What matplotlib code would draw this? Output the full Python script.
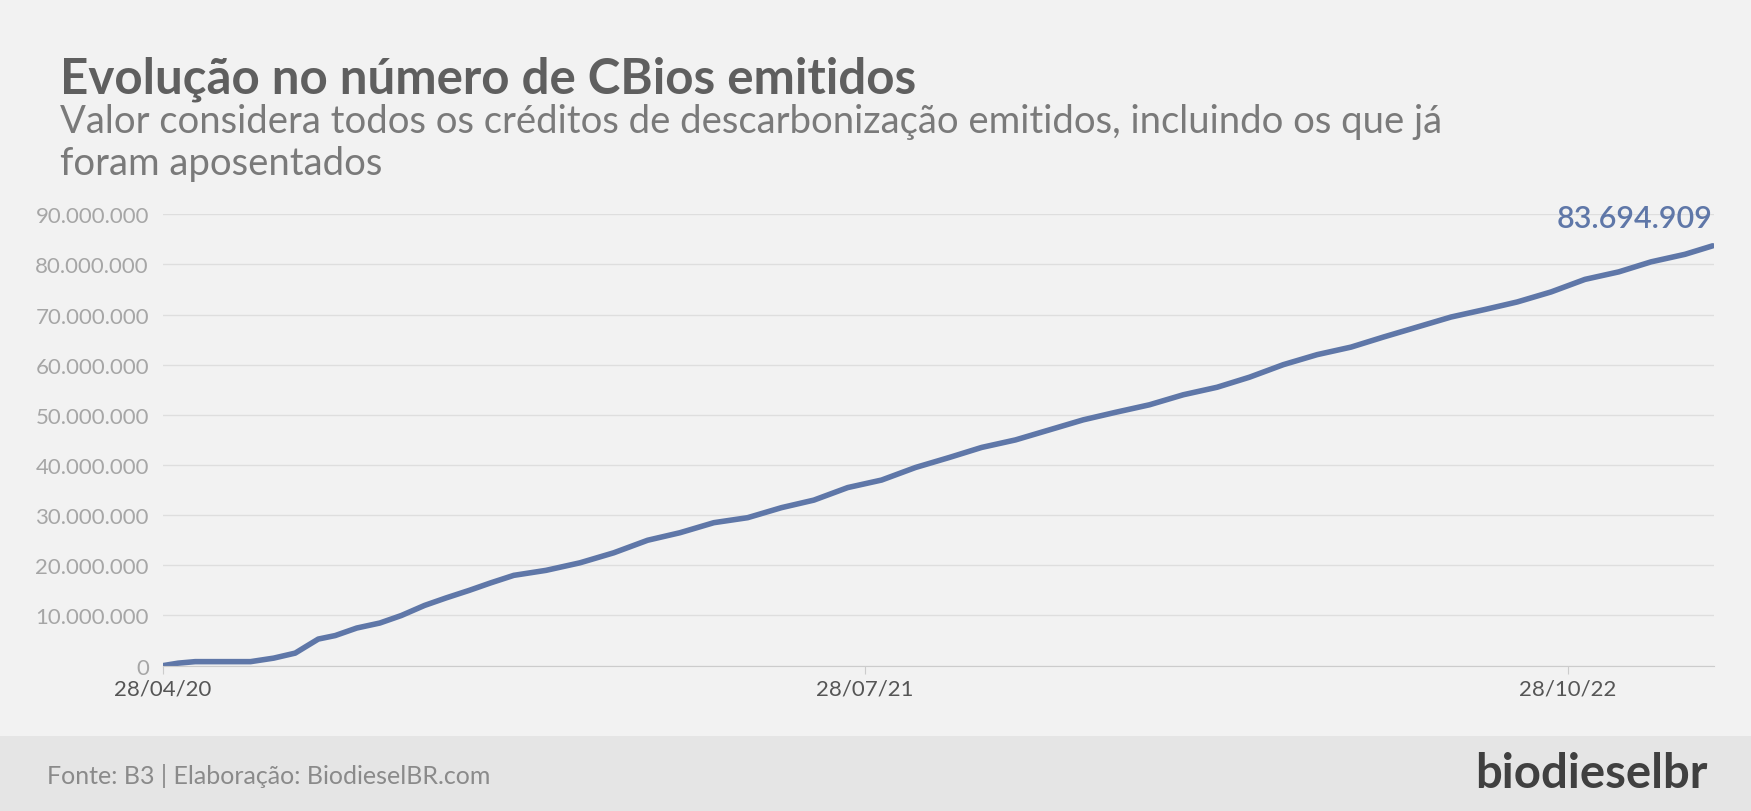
import matplotlib
matplotlib.use("Agg")
import matplotlib.pyplot as plt
import matplotlib.ticker as mticker
import pandas as pd

dates = ["2020-04-28","2020-05-08","2020-05-19","2020-06-24","2020-07-09","2020-07-23","2020-07-31",
 "2020-08-07","2020-08-18","2020-09-01","2020-09-16","2020-09-30","2020-10-15","2020-10-29","2020-11-13",
 "2020-11-27","2020-12-12","2021-01-02","2021-01-24","2021-02-15","2021-03-09","2021-03-30","2021-04-21",
 "2021-05-13","2021-06-04","2021-06-25","2021-07-17","2021-08-08","2021-08-30","2021-09-21","2021-10-12",
 "2021-11-03","2021-11-25","2021-12-17","2022-01-07","2022-01-29","2022-02-20","2022-03-14","2022-04-04",
 "2022-04-26","2022-05-18","2022-06-09","2022-06-30","2022-07-22","2022-08-13","2022-09-04","2022-09-25",
 "2022-10-17","2022-11-08","2022-11-30","2022-12-21","2023-01-12","2023-01-30"]
values_m = [0,0.5,0.8,0.8,1.5,2.5,4,5.3,6,7.5,8.5,10,12,13.5,15,16.5,18,19,20.5,22.5,25,26.5,28.5,
 29.5,31.5,33,35.5,37,39.5,41.5,43.5,45,47,49,50.5,52,54,55.5,57.5,60,62,63.5,65.5,67.5,69.5,71,72.5,
 74.5,77,78.5,80.5,82,83.694909]
tick_dates = ["2020-04-28","2021-07-28","2022-10-28"]
tick_labels = ["28/04/20","28/07/21","28/10/22"]
last_label = "83.694.909"

x = pd.to_datetime(dates)
y = [v*1e6 for v in values_m]

bg = "#f2f2f2"
fig = plt.figure(figsize=(17.51, 8.12), dpi=100, facecolor=bg)
plt.rcParams['font.family'] = ['Lato', 'DejaVu Sans']

footer = fig.add_axes([0, 0, 1, 0.092])
footer.set_facecolor("#e5e5e5"); footer.set_xticks([]); footer.set_yticks([])
for s in footer.spines.values(): s.set_visible(False)

ax = fig.add_axes([0.093, 0.179, 0.886, 0.556], facecolor=bg)
ax.plot(x, y, color="#5f77a8", lw=4, solid_joinstyle="round", solid_capstyle="round")
ax.set_ylim(0, 90e6)
ax.set_xlim(x[0], x[-1] + pd.Timedelta(days=1))
ax.yaxis.set_major_locator(mticker.MultipleLocator(10e6))
ax.yaxis.set_major_formatter(mticker.FuncFormatter(lambda v, p: f"{int(v):,}".replace(",", ".")))
ax.set_xticks(pd.to_datetime(tick_dates))
ax.set_xticklabels(tick_labels)
ax.grid(axis="y", color="#dedede", lw=1)
ax.set_axisbelow(True)
for s in ["top", "right", "left"]: ax.spines[s].set_visible(False)
ax.spines["bottom"].set_color("#cccccc")
ax.tick_params(axis="y", length=0, labelsize=16, labelcolor="#a6a6a6", pad=10)
ax.tick_params(axis="x", length=6, color="#cccccc", labelsize=16, labelcolor="#555555")
ax.annotate(last_label, (x[-1], y[-1]), xytext=(0, 10), textcoords="offset points",
            ha="right", va="bottom", fontsize=22, color="#5f77a8", fontweight="semibold")

fig.text(0.034, 0.885, "Evolução no número de CBios emitidos", fontsize=35.5, fontweight="bold", color="#5f5f5f")
fig.text(0.034, 0.785, "Valor considera todos os créditos de descarbonização emitidos, incluindo os que já\nforam aposentados",
         fontsize=27.5, color="#7a7a7a", linespacing=1.2)
fig.text(0.027, 0.035, "Fonte: B3 | Elaboração: BiodieselBR.com", fontsize=18, color="#8a8a8a")
fig.text(0.975, 0.03, "biodieselbr", fontsize=34, fontweight="bold", color="#404040", ha="right")
fig.savefig("out.png", dpi=100, facecolor=bg)
